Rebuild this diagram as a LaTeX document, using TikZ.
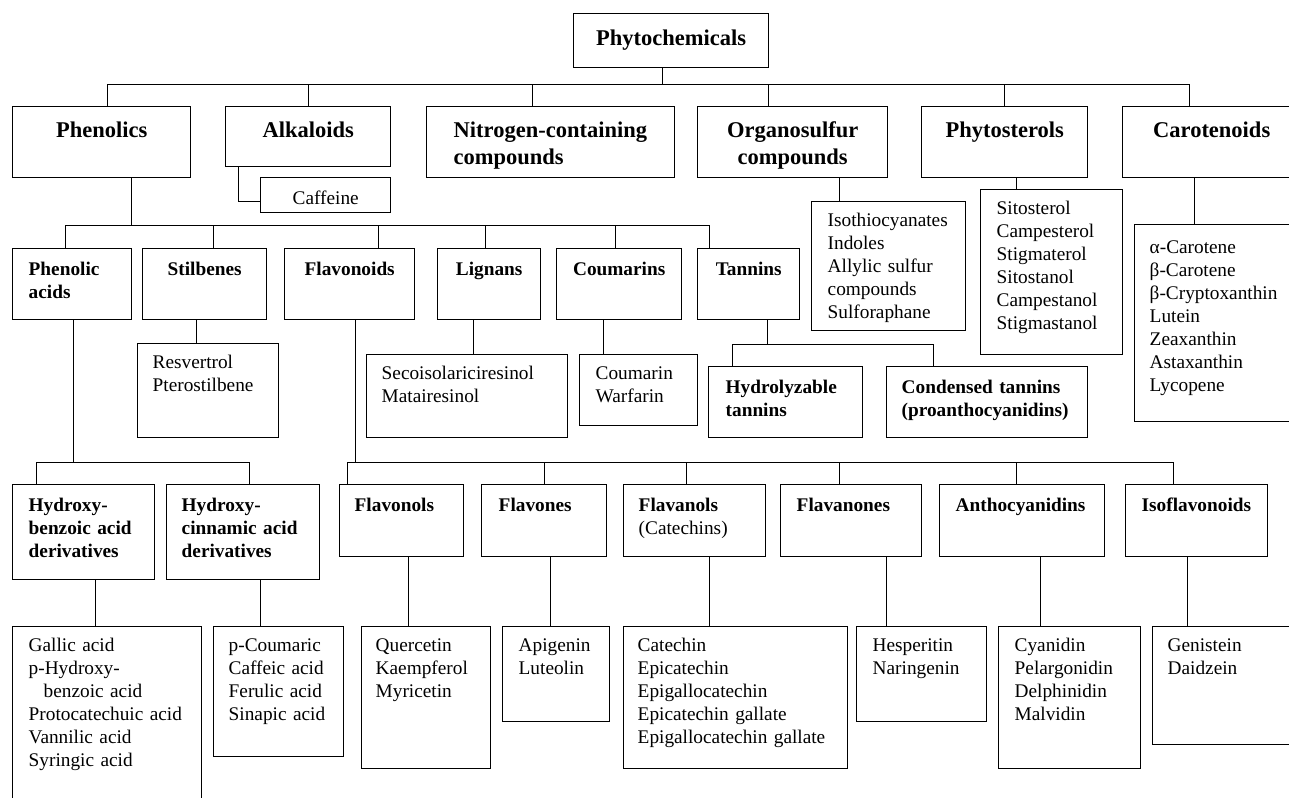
\documentclass[tikz,border=0pt]{standalone}
\usepackage{fontspec}
\setmainfont{Liberation Serif}
\usepackage{tikz}
\newcommand{\txtfont}{\fontsize{19.3}{23}\selectfont}
\newcommand{\hdfont}{\fontsize{22.5}{27}\selectfont\bfseries}
\tikzset{box/.style={draw, line width=1.4pt, anchor=north west, inner sep=0pt,
                     text height=25pt, font=\txtfont},
         mid/.style={align=center},
         lft/.style={align=left, execute at begin node={\leftskip=#1}},
         lft/.default=15pt,
         head/.style={box, mid, font=\hdfont, text height=31pt},
         grp/.style={box, font=\txtfont\bfseries, text height=27pt},
         wire/.style={line width=1.4pt}}

\begin{document}
\begin{tikzpicture}[x=1pt, y=-1pt]
\useasboundingbox (0,0) rectangle (1289,797);
\clip (0,0) rectangle (1289,797);

% top and main groups
\node[head, text width=195pt, text height=32pt, text depth=22pt] (phyto) at (573,13) {Phytochemicals};
\node[head, text width=178pt, text depth=40pt] (phen) at (12,106) {Phenolics};
\node[head, text width=165pt, text depth=29pt] (alk) at (225,106) {Alkaloids};
\node[head, lft=27pt, text width=248pt, text depth=40pt] (nitro) at (426,106) {Nitrogen-containing\\compounds};
\node[head, text width=190pt, text depth=40pt] (sulf) at (697,106) {Organosulfur\\compounds};
\node[head, text width=166pt, text depth=40pt] (ster) at (921,106) {Phytosterols};
\node[head, text width=178pt, text depth=40pt] (carot) at (1122,106) {Carotenoids};
\node[box, mid, text width=130pt, text height=27pt, text depth=8pt] (caff) at (260,177) {Caffeine};

\node[box, lft=16pt, text width=154pt, text depth=104pt] (iso) at (811,201) {Isothiocyanates\\Indoles\\Allylic sulfur\\compounds\\Sulforaphane};
\node[box, lft=16pt, text width=142pt, text depth=140pt] (sito) at (980,189) {Sitosterol\\Campesterol\\Stigmaterol\\Sitostanol\\Campestanol\\Stigmastanol};
\node[box, lft, text width=200pt, text height=29pt, text depth=168pt] (carl) at (1134,224) {α-Carotene\\β-Carotene\\β-Cryptoxanthin\\Lutein\\Zeaxanthin\\Astaxanthin\\Lycopene};

% phenolics
\node[grp, lft=16pt, text width=119pt, text depth=44pt] (phac) at (12,248) {Phenolic\\acids};
\node[grp, mid, text width=124pt, text depth=44pt] (stil) at (142,248) {Stilbenes};
\node[grp, mid, text width=130pt, text depth=44pt] (flav) at (284,248) {Flavonoids};
\node[grp, mid, text width=103pt, text depth=44pt] (lign) at (437,248) {Lignans};
\node[grp, mid, text width=125pt, text depth=44pt] (coum) at (556,248) {Coumarins};
\node[grp, mid, text width=102pt, text depth=44pt] (tann) at (697,248) {Tannins};

\node[box, lft, text width=141pt, text depth=69pt] (resv) at (137,343) {Resvertrol\\Pterostilbene};
\node[box, lft, text width=201pt, text depth=58pt] (seco) at (366,354) {Secoisolariciresinol\\Matairesinol};
\node[box, lft=16pt, text width=118pt, text depth=46pt] (coul) at (579,354) {Coumarin\\Warfarin};
\node[grp, lft=17pt, text width=154pt, text depth=44pt] (hydr) at (708,366) {Hydrolyzable\\tannins};
\node[grp, lft, text width=201pt, text depth=44pt] (cond) at (886,366) {Condensed tannins\\(proanthocyanidins)};

% acids and flavonoids
\node[grp, lft=16pt, text width=142pt, text depth=68pt] (hben) at (12,484) {Hydroxy-\\benzoic acid\\derivatives};
\node[grp, lft, text width=153pt, text depth=68pt] (hcin) at (166,484) {Hydroxy-\\cinnamic acid\\derivatives};
\node[grp, lft, text width=124pt, text depth=45pt] (fols) at (339,484) {Flavonols};
\node[grp, lft=17pt, text width=125pt, text depth=45pt] (fnes) at (481,484) {Flavones};
\node[grp, lft, text width=142pt, text depth=45pt] (fans) at (623,484) {Flavanols\\\mdseries(Catechins)};
\node[grp, lft=16pt, text width=141pt, text depth=45pt] (fnon) at (780,484) {Flavanones};
\node[grp, lft=16pt, text width=165pt, text depth=45pt] (anth) at (939,484) {Anthocyanidins};
\node[grp, lft=16pt, text width=142pt, text depth=45pt] (isof) at (1125,484) {Isoflavonoids};

\node[box, lft=16pt, text width=189pt, text depth=175pt] (gall) at (12,626) {Gallic acid\\p-Hydroxy-\\\hspace*{15pt}benzoic acid\\Protocatechuic acid\\Vannilic acid\\Syringic acid};
\node[box, lft, text width=130pt, text depth=105pt] (pcou) at (213,626) {p-Coumaric\\Caffeic acid\\Ferulic acid\\Sinapic acid};
\node[box, lft=14pt, text width=129pt, text depth=117pt] (quer) at (361,626) {Quercetin\\Kaempferol\\Myricetin};
\node[box, lft=16pt, text width=107pt, text depth=70pt] (apig) at (502,626) {Apigenin\\Luteolin};
\node[box, lft=14pt, text width=224pt, text depth=117pt] (cate) at (623,626) {Catechin\\Epicatechin\\Epigallocatechin\\Epicatechin gallate\\Epigallocatechin gallate};
\node[box, lft=16pt, text width=130pt, text depth=70pt] (hesp) at (856,626) {Hesperitin\\Naringenin};
\node[box, lft=16pt, text width=142pt, text depth=117pt] (cyan) at (998,626) {Cyanidin\\Pelargonidin\\Delphinidin\\Malvidin};
\node[box, lft, text width=160pt, text depth=93pt] (geni) at (1152,626) {Genistein\\Daidzein};

% connectors
\foreach \c/\dx in {phen/6, alk/0, nitro/-18, sulf/-24, ster/0, carot/-22}
  \draw[wire] ([xshift=-9pt]phyto.south) -- ++(0,16) -| ([xshift=\dx pt]\c.north);
\draw[wire] ([xshift=-70pt]alk.south) |- ([yshift=-6pt]caff.west);

\foreach \c/\dx in {phac/-6.5, stil/9, flav/29, lign/-3.5, coum/-3.5, tann/-39}
  \draw[wire] ([xshift=30pt]phen.south) -- ++(0,47) -| ([xshift=\dx pt]\c.north);
\foreach \c/\dx in {hydr/-53, cond/-53.5}
  \draw[wire] ([xshift=19pt]tann.south) -- ++(0,24) -| ([xshift=\dx pt]\c.north);
\foreach \c/\dx in {hben/-47, hcin/6.5}
  \draw[wire] ([xshift=1.5pt]phac.south) -- ++(0,142) -| ([xshift=\dx pt]\c.north);
\foreach \c/\dx in {fols/-54, fnes/0.5, fans/-8, fnon/-11.5, anth/-5.5, isof/-23}
  \draw[wire] ([xshift=6pt]flav.south) -- ++(0,142) -| ([xshift=\dx pt]\c.north);

% single drops to the lists
\foreach \p/\dx/\c in {sulf/47/iso, ster/12/sito, carot/-17/carl, stil/-8/resv,
                       lign/-15.5/seco, coum/-15.5/coul, hben/12/gall, hcin/17.5/pcou,
                       fols/7/quer, fnes/6.5/apig, fans/15/cate, fnon/35.5/hesp,
                       anth/18.5/cyan, isof/-9/geni}
  \draw[wire] ([xshift=\dx pt]\p.south) coordinate (t) -- (t |- \c.north);
\end{tikzpicture}
\end{document}
